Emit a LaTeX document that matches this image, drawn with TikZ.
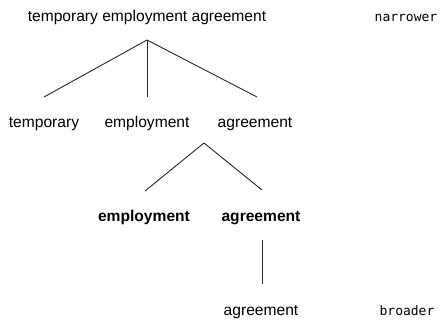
\documentclass[tikz,border=0pt]{standalone}
\usepackage{fontspec}
\setmainfont{Liberation Sans}
\newfontfamily\monofnt{DejaVu Sans Mono}
\begin{document}
\begin{tikzpicture}[x=1pt,y=-1pt,
  word/.style={anchor=base,inner sep=0pt,font=\fontsize{15.6}{18}\selectfont},
  bword/.style={word,font=\fontsize{15.6}{18}\selectfont\bfseries},
  mono/.style={anchor=base,inner sep=0pt,font=\fontsize{13}{15}\selectfont\monofnt},
  edge/.style={line width=0.9pt,draw=black!85}]
\useasboundingbox (0,0) rectangle (440,320);
% texts
\node[word] (top) at (147,22) {temporary employment agreement};
\node[mono] (narrower) at (406,22) {narrower};
\node[word] (temp) at (44,128) {temporary};
\node[word] (emp) at (147,128) {employment};
\node[word] (agr) at (255,128) {agreement};
\node[bword] (bemp) at (144,222) {employment};
\node[bword] (bagr) at (261,222) {agreement};
\node[word] (last) at (261,316) {agreement};
\node[mono] (broader) at (407,316) {broader};
% connector points
\coordinate (a1) at (147,40);
\coordinate (e1) at (44,97);
\coordinate (e2) at (147,97);
\coordinate (e3) at (257,97);
\coordinate (a2) at (204,143);
\coordinate (f1) at (145,191);
\coordinate (f2) at (262,190);
\coordinate (g1) at (262,240);
\coordinate (g2) at (262,284);
\draw[edge] (a1) -- (e1);
\draw[edge] (a1) -- (e2);
\draw[edge] (a1) -- (e3);
\draw[edge] (a2) -- (f1);
\draw[edge] (a2) -- (f2);
\draw[edge] (g1) -- (g2);
\end{tikzpicture}
\end{document}
